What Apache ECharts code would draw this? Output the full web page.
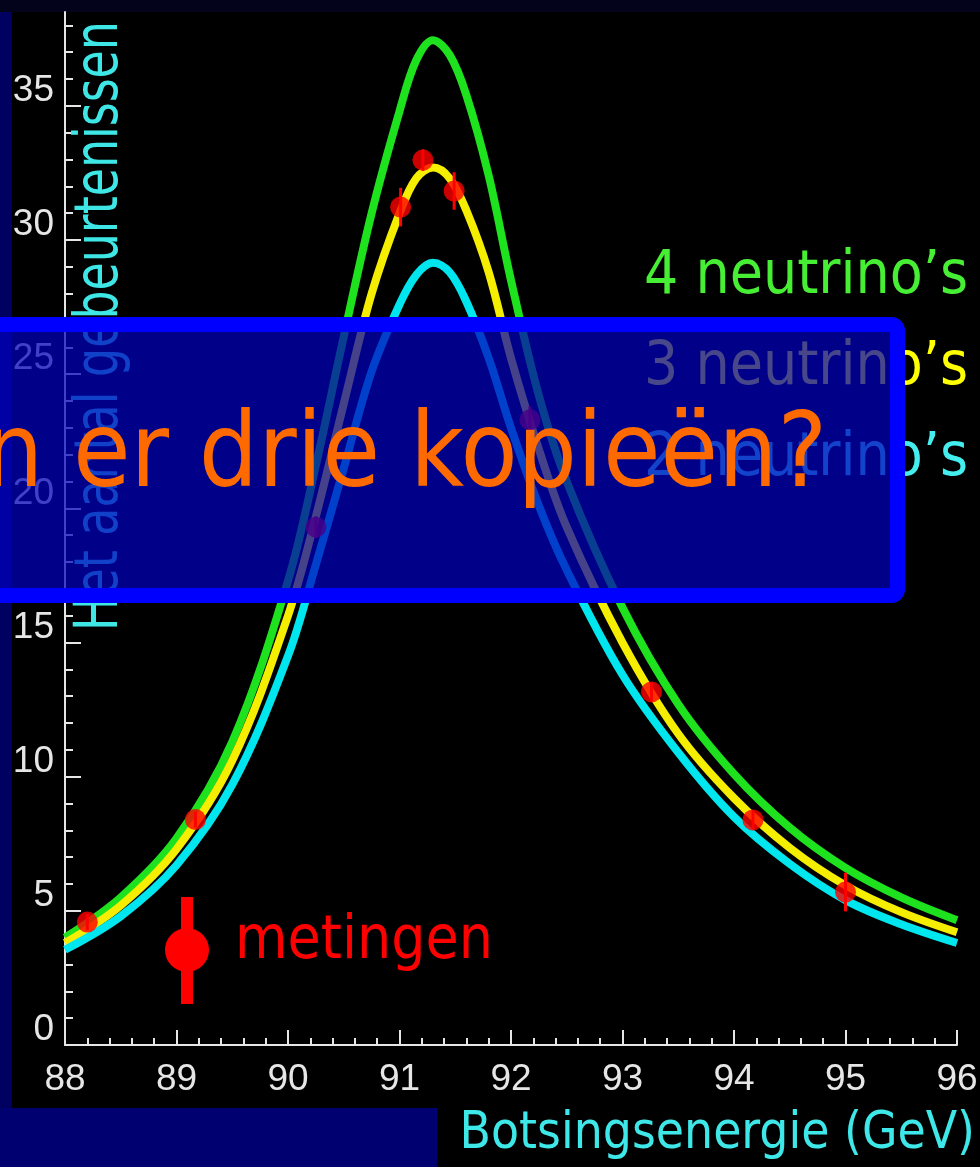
<!DOCTYPE html>
<html>
<head>
<meta charset="utf-8">
<script src="https://cdn.jsdelivr.net/npm/echarts@6/dist/echarts.min.js"></script>
<style>
  html, body { margin: 0; padding: 0; background: #000060; }
  #chart { width: 980px; height: 1167px; }
</style>
</head>
<body>
<div id="chart"></div>
<script>
// Collision energy (GeV) at which the three model curves are sampled
const energy  = [88.0, 88.5, 89.0, 89.5, 90.0, 90.25, 90.5, 90.75, 91.0, 91.15, 91.3, 91.45,
                 91.6, 91.8, 92.0, 92.25, 92.5, 93.0, 93.5, 94.0, 94.5, 95.0, 95.5, 96.0];
// Expected number of events for 4, 3 and 2 neutrino species
const fourNu  = [4.0, 5.5, 7.7, 11.3, 17.3, 21.6, 26.4, 31.0, 34.8, 36.7, 37.45, 36.9,
                 35.4, 32.4, 28.5, 24.2, 21.0, 16.3, 12.7, 10.1, 8.1, 6.6, 5.5, 4.65];
const threeNu = [3.8, 5.2, 7.3, 10.6, 16.0, 19.7, 23.9, 28.0, 31.0, 32.3, 32.7, 32.3,
                 31.1, 28.8, 25.6, 22.2, 19.3, 15.0, 11.6, 9.2, 7.35, 5.95, 4.95, 4.2];
const twoNu   = [3.55, 4.8, 6.7, 9.7, 14.5, 17.9, 21.5, 25.1, 27.6, 28.7, 29.15, 28.8,
                 27.7, 25.6, 23.0, 20.1, 17.7, 13.8, 10.9, 8.5, 6.75, 5.4, 4.5, 3.8];

// Measurements with their uncertainties
const measEnergy = [88.20, 89.17, 90.25, 91.01, 91.21, 91.49, 92.17, 93.26, 94.17, 95.00];
const measCount  = [4.58, 8.40, 19.3, 31.23, 32.98, 31.83, 23.3, 13.16, 8.39, 5.70];
const measError  = [0.3, 0.3, 0.4, 0.72, 0.4, 0.7, 0.5, 0.35, 0.35, 0.72];

// Axis ticks
const xTicks      = [88, 89, 90, 91, 92, 93, 94, 95, 96];
const yTicks      = [0, 5, 10, 15, 20, 25, 30, 35];
const yMinorTicks = [1, 2, 3, 4, 6, 7, 8, 9, 11, 12, 13, 14, 16, 17, 18, 19, 21, 22, 23, 24,
                     26, 27, 28, 29, 31, 32, 33, 34, 36, 37, 38];

const curveLabels = ['4 neutrino\u2019s', '3 neutrino\u2019s', '2 neutrino\u2019s'];
const curveColors = ['#1ee21e', '#f6ee00', '#00e6ee'];
const labelColors = ['#46ee34', '#ffff00', '#44eeee'];

const TXT = '"DejaVu Sans Condensed", "DejaVu Sans", sans-serif';
const NUM = '"Liberation Sans", Arial, sans-serif';
const AX = '#e6e6e6';

const chart = echarts.init(document.getElementById('chart'), null, { renderer: 'canvas' });

const curveSeries = [fourNu, threeNu, twoNu].map((vals, i) => ({
  type: 'line',
  name: curveLabels[i],
  data: energy.map((e, j) => [e, vals[j]]),
  smooth: 0.35,
  showSymbol: false,
  symbol: 'none',
  lineStyle: { color: curveColors[i], width: 8 },
  z: 3 + i
}));

const option = {
  backgroundColor: '#000060',
  animation: false,
  grid: { left: 65, right: 23, top: 12, bottom: 122, containLabel: false, outerBoundsMode: 'none' },
  xAxis: [{
    type: 'value', min: 88, max: 96, interval: 1, position: 'bottom',
    axisLine: { show: true, onZero: false, lineStyle: { color: AX, width: 2 } },
    axisTick: { show: true, inside: true, length: 15, lineStyle: { color: AX, width: 2 } },
    minorTick: { show: true, splitNumber: 5, length: 7, lineStyle: { color: AX, width: 2 } },
    axisLabel: {
      customValues: xTicks, color: AX, fontFamily: NUM, fontSize: 37,
      margin: 35, verticalAlign: 'middle'
    },
    splitLine: { show: false }
  }],
  yAxis: [{
    type: 'value', min: 0, max: 38.5, position: 'left',
    axisLine: { show: true, onZero: false, lineStyle: { color: AX, width: 2 } },
    axisTick: { show: true, inside: true, length: 16, customValues: yTicks, lineStyle: { color: AX, width: 2 } },
    axisLabel: {
      customValues: yTicks, color: AX, fontFamily: NUM, fontSize: 37,
      margin: 11, verticalAlign: 'bottom', lineHeight: 30
    },
    splitLine: { show: false }
  }, {
    type: 'value', min: 0, max: 38.5, position: 'left',
    axisLine: { show: false },
    axisTick: { show: true, inside: true, length: 8, customValues: yMinorTicks, lineStyle: { color: AX, width: 2 } },
    axisLabel: { show: false },
    splitLine: { show: false }
  }],
  series: [
    ...curveSeries,
    {
      type: 'custom',
      name: 'fout',
      data: measEnergy.map((e, i) => [e, measCount[i] - measError[i], measCount[i] + measError[i]]),
      renderItem: (params, api) => {
        const lo = api.coord([api.value(0), api.value(1)]);
        const hi = api.coord([api.value(0), api.value(2)]);
        return {
          type: 'line',
          shape: { x1: lo[0], y1: lo[1], x2: hi[0], y2: hi[1] },
          style: { stroke: '#ff0000', lineWidth: 3 }
        };
      },
      z: 8
    },
    {
      type: 'scatter',
      name: 'metingen',
      data: measEnergy.map((e, i) => [e, measCount[i]]),
      symbol: 'circle',
      symbolSize: 21,
      itemStyle: { color: '#ff0000' },
      z: 9
    }
  ],
  graphic: {
    elements: [
      // slide backdrop and the black plot panel
      { type: 'rect', z: -20, shape: { x: 0, y: 0, width: 980, height: 12 }, style: { fill: '#03031c' } },
      { type: 'rect', z: -19, shape: { x: 12, y: 12, width: 968, height: 1096 }, style: { fill: '#000000' } },
      { type: 'rect', z: -19, shape: { x: 437, y: 1108, width: 543, height: 59 }, style: { fill: '#000000' } },
      { type: 'rect', z: -21, shape: { x: 0, y: 1108, width: 437, height: 59 }, style: { fill: '#000070' } },

      // vertical axis title
      {
        type: 'text', z: 20, x: 101, y: 631, rotation: Math.PI / 2, scaleX: 0.85,
        style: { text: 'Het aantal gebeurtenissen', font: '60px ' + TXT, fill: '#3ee6e6', align: 'left', verticalAlign: 'middle' }
      },
      // curve labels
      ...curveLabels.map((t, i) => ({
        type: 'text', z: 20, x: 968, y: 277 + i * 91,
        style: { text: t, font: '60px ' + TXT, fill: labelColors[i], align: 'right', verticalAlign: 'middle' }
      })),
      // measurement key
      { type: 'rect', z: 20, shape: { x: 181, y: 897, width: 12, height: 107 }, style: { fill: '#ff0000' } },
      { type: 'circle', z: 20, shape: { cx: 187, cy: 950, r: 22 }, style: { fill: '#ff0000' } },
      {
        type: 'text', z: 20, x: 235, y: 942,
        style: { text: 'metingen', font: '60px ' + TXT, fill: '#ff0000', align: 'left', verticalAlign: 'middle' }
      },
      // horizontal axis title
      {
        type: 'text', z: 20, x: 975, y: 1135,
        style: { text: 'Botsingsenergie (GeV)', font: '51px ' + TXT, fill: '#3ee8e8', align: 'right', verticalAlign: 'middle' }
      },

      // question banner laid over the plot
      {
        type: 'rect', z: 100, shape: { x: -30, y: 324.5, width: 927.5, height: 271, r: 6 },
        style: { fill: 'rgba(0,0,190,0.72)', stroke: '#0000ff', lineWidth: 15 }
      },
      {
        type: 'text', z: 101, x: -16, y: 459,
        style: { text: 'n er drie kopie\u00ebn?', font: '104px ' + TXT, fill: '#ff6a00', align: 'left', verticalAlign: 'middle' }
      }
    ]
  }
};

chart.setOption(option);
</script>
</body>
</html>
